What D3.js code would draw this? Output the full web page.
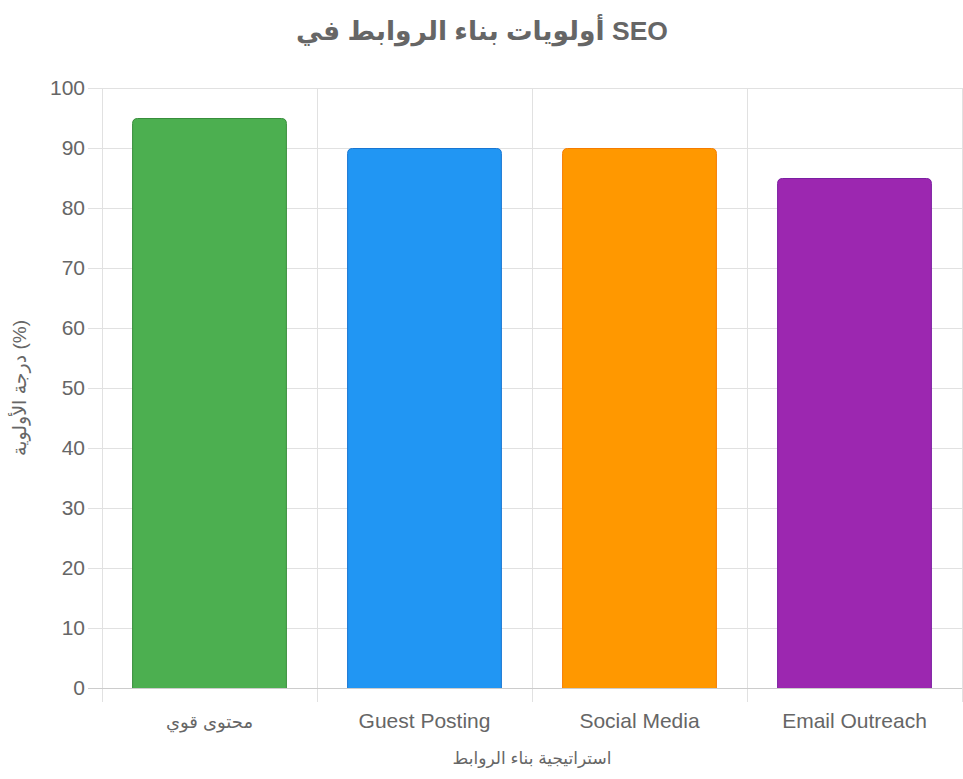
<!DOCTYPE html>
<html>
<head>
<meta charset="utf-8">
<script src="https://cdn.jsdelivr.net/npm/d3@7"></script>
<style>
  body { margin: 0; background: #fff; }
  svg { display: block; font-family: "Liberation Sans", Arial, "DejaVu Sans", sans-serif; }
</style>
</head>
<body>
<svg id="chart" width="963" height="779"></svg>
<script>
// chart data
var categories = ["محتوى قوي", "Guest Posting", "Social Media", "Email Outreach"];
var values = [95, 90, 90, 85];
var fills = ["#4CAF50", "#2196F3", "#FF9800", "#9C27B0"];
var borders = ["#388E3C", "#1976D2", "#F57C00", "#7B1FA2"];
var yTicks = [0, 10, 20, 30, 40, 50, 60, 70, 80, 90, 100];

var svg = d3.select("#chart");
var margin = { left: 102, right: 962, top: 88, bottom: 688 };

var x = d3.scaleBand()
  .domain(categories)
  .range([margin.left, margin.right]);

var y = d3.scaleLinear()
  .domain([0, 100])
  .range([margin.bottom, margin.top]);

// title
svg.append("text")
  .attr("x", 482)
  .attr("y", 40)
  .attr("text-anchor", "middle")
  .attr("font-size", 26.5)
  .attr("font-weight", "bold")
  .attr("fill", "#666")
  .text("أولويات بناء الروابط في SEO");

// horizontal grid
svg.append("g")
  .selectAll("line")
  .data(yTicks)
  .join("line")
  .attr("x1", margin.left - 14)
  .attr("x2", margin.right)
  .attr("y1", d => y(d) + 0.5)
  .attr("y2", d => y(d) + 0.5)
  .attr("stroke", d => d === 0 ? "#ccc" : "#e1e1e1");

// vertical grid
var xLines = categories.map(c => x(c)).concat([margin.right]);
svg.append("g")
  .selectAll("line")
  .data(xLines)
  .join("line")
  .attr("x1", d => d + 0.5)
  .attr("x2", d => d + 0.5)
  .attr("y1", margin.top)
  .attr("y2", margin.bottom + 14)
  .attr("stroke", "#e1e1e1");

// y tick labels
svg.append("g")
  .selectAll("text")
  .data(yTicks)
  .join("text")
  .attr("x", 85)
  .attr("y", d => y(d))
  .attr("dy", "0.35em")
  .attr("text-anchor", "end")
  .attr("font-size", 21)
  .attr("fill", "#666")
  .text(d => d);

// bars with rounded top corners only
var bw = x.bandwidth() * 0.72;
var r = 5;
function barPath(d, i) {
  var x0 = x(categories[i]) + (x.bandwidth() - bw) / 2 + 0.5;
  var x1 = x0 + bw - 1;
  var y0 = y(d) + 0.5;
  var yb = y(0);
  return "M" + x0 + "," + yb +
    "V" + (y0 + r) +
    "Q" + x0 + "," + y0 + " " + (x0 + r) + "," + y0 +
    "H" + (x1 - r) +
    "Q" + x1 + "," + y0 + " " + x1 + "," + (y0 + r) +
    "V" + yb;
}
svg.append("g")
  .selectAll("path")
  .data(values)
  .join("path")
  .attr("d", barPath)
  .attr("fill", (d, i) => fills[i])
  .attr("stroke", (d, i) => borders[i])
  .attr("stroke-width", 1);

svg.append("line")
  .attr("x1", margin.left)
  .attr("x2", margin.right)
  .attr("y1", y(0) + 0.5)
  .attr("y2", y(0) + 0.5)
  .attr("stroke", "#ccc");

// x tick labels (arabic glyphs run wider, so shrink that one a little)
svg.append("g")
  .selectAll("text")
  .data(categories)
  .join("text")
  .attr("x", d => x(d) + x.bandwidth() / 2)
  .attr("y", 728)
  .attr("text-anchor", "middle")
  .attr("font-size", (d, i) => i === 0 ? 18 : 21)
  .attr("fill", "#666")
  .text(d => d);

// axis titles
svg.append("text")
  .attr("x", 532)
  .attr("y", 764)
  .attr("text-anchor", "middle")
  .attr("font-size", 17)
  .attr("fill", "#666")
  .text("استراتيجية بناء الروابط");

svg.append("text")
  .attr("transform", "translate(26,388) rotate(-90)")
  .attr("text-anchor", "middle")
  .attr("font-size", 19)
  .attr("fill", "#666")
  .text("درجة الأولوية (%)");
</script>
</body>
</html>
